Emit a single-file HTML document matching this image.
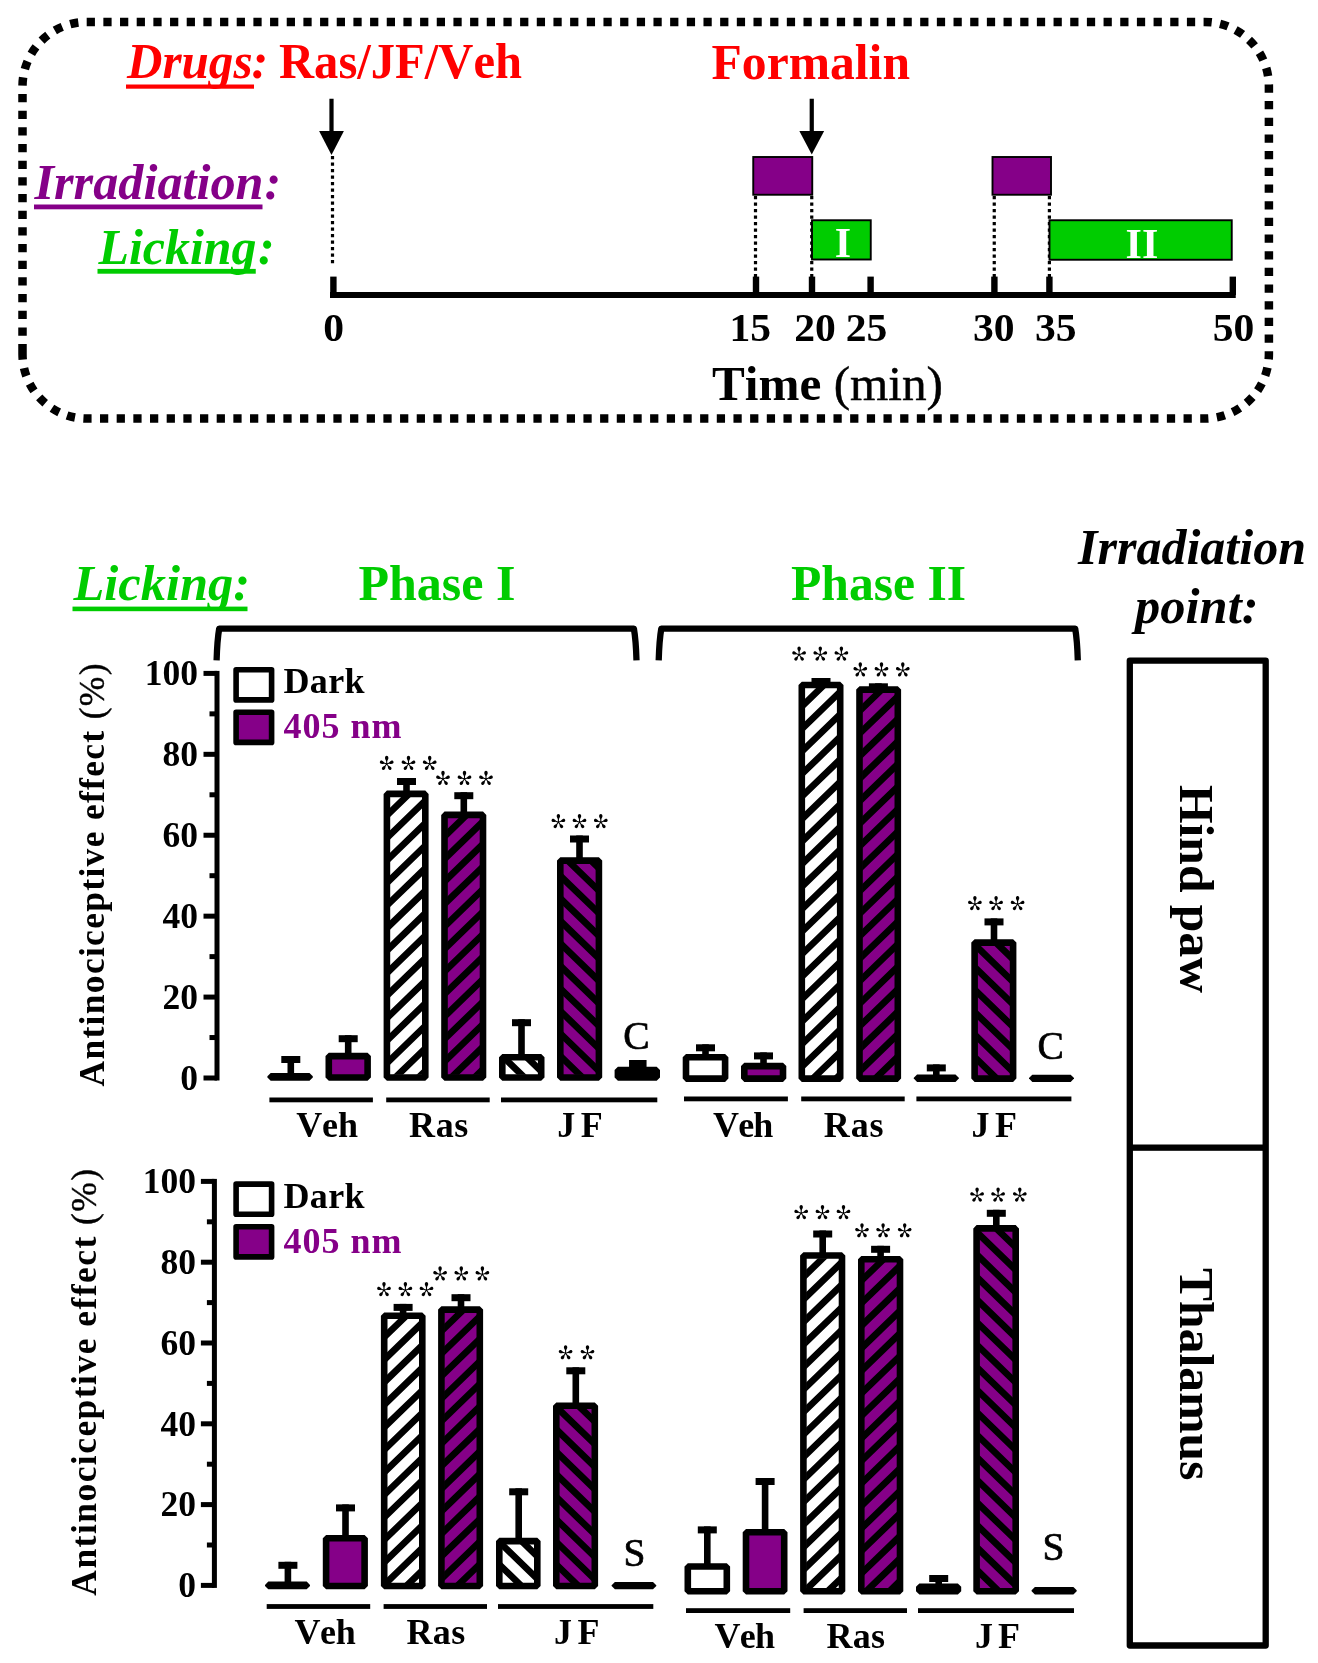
<!DOCTYPE html>
<html lang="en">
<head>
<meta charset="utf-8">
<title>Figure</title>
<style>
html,body{margin:0;padding:0;background:#fff;}
body{width:1318px;height:1663px;overflow:hidden;font-family:"Liberation Serif",serif;}
svg{display:block;font-family:"Liberation Serif",serif;will-change:transform;font-kerning:none;}
</style>
</head>
<body>
<svg width="1318" height="1663" viewBox="0 0 1318 1663">
<defs>
<path id="arm" d="M-0.5,0.3 L-0.55,-2.6 C-0.65,-3.7 -1.7,-4.6 -1.7,-6 C-1.7,-7.3 -0.9,-8.1 0,-8.1 C0.9,-8.1 1.7,-7.3 1.7,-6 C1.7,-4.6 0.65,-3.7 0.55,-2.6 L0.5,0.3 Z"/>
<g id="star"><use href="#arm"/><use href="#arm" transform="rotate(72) scale(0.95,0.88)"/><use href="#arm" transform="rotate(144) scale(0.95,0.88)"/><use href="#arm" transform="rotate(216) scale(0.95,0.88)"/><use href="#arm" transform="rotate(288) scale(0.95,0.88)"/></g>
<clipPath id="c1"><rect x="389.60" y="796.60" width="33.00" height="278.20"/></clipPath>
<clipPath id="c2"><rect x="447.20" y="817.60" width="33.10" height="257.20"/></clipPath>
<clipPath id="c3"><rect x="505.00" y="1060.00" width="33.50" height="14.80"/></clipPath>
<clipPath id="c4"><rect x="563.00" y="863.30" width="33.20" height="211.50"/></clipPath>
<clipPath id="c5"><rect x="804.50" y="687.70" width="33.00" height="388.20"/></clipPath>
<clipPath id="c6"><rect x="862.20" y="692.30" width="32.90" height="383.60"/></clipPath>
<clipPath id="c7"><rect x="977.30" y="945.30" width="33.10" height="130.60"/></clipPath>
<clipPath id="c8"><rect x="386.90" y="1318.40" width="32.70" height="264.90"/></clipPath>
<clipPath id="c9"><rect x="444.10" y="1312.30" width="33.00" height="271.00"/></clipPath>
<clipPath id="c10"><rect x="502.00" y="1543.80" width="32.60" height="39.50"/></clipPath>
<clipPath id="c11"><rect x="559.00" y="1408.50" width="33.10" height="174.80"/></clipPath>
<clipPath id="c12"><rect x="806.10" y="1258.20" width="33.20" height="330.30"/></clipPath>
<clipPath id="c13"><rect x="864.00" y="1262.00" width="33.30" height="326.50"/></clipPath>
<clipPath id="c14"><rect x="979.30" y="1231.10" width="33.70" height="357.40"/></clipPath>
</defs>
<rect x="0" y="0" width="1318" height="1663" fill="#fff"/>
<path d="M22.5,352.3 V86.4 A64.5,64.5 0 0 1 87,21.9 H1204.4 A64.5,64.5 0 0 1 1268.9,86.4 V354.1 A64.5,64.5 0 0 1 1204.4,418.6 H87 A64.5,64.5 0 0 1 22.5,354.1 Z" fill="none" stroke="#000" stroke-width="8.5" stroke-dasharray="8.25 8.42"/>
<text x="127.00" y="78.00" font-size="50" font-weight="bold" font-style="italic" fill="#ff0000" textLength="125.50" lengthAdjust="spacingAndGlyphs" >Drugs</text>
<rect x="126.00" y="84.50" width="128.00" height="4.20" fill="#ff0000" stroke="none" stroke-width="0" />
<text x="251.50" y="78.00" font-size="50" font-weight="bold" font-style="italic" fill="#ff0000" >:</text>
<text x="279.00" y="78.00" font-size="50" font-weight="bold" font-style="normal" fill="#ff0000" textLength="243.00" lengthAdjust="spacingAndGlyphs" >Ras/JF/Veh</text>
<text x="711.50" y="78.50" font-size="50" font-weight="bold" font-style="normal" fill="#ff0000" textLength="198.50" lengthAdjust="spacingAndGlyphs" >Formalin</text>
<text x="34.50" y="198.75" font-size="50" font-weight="bold" font-style="italic" fill="#850088" textLength="229.00" lengthAdjust="spacingAndGlyphs" >Irradiation</text>
<rect x="34.00" y="204.50" width="228.50" height="4.80" fill="#850088" stroke="none" stroke-width="0" />
<text x="264.50" y="198.75" font-size="50" font-weight="bold" font-style="italic" fill="#850088" >:</text>
<text x="98.50" y="263.75" font-size="50" font-weight="bold" font-style="italic" fill="#00cc00" textLength="158.00" lengthAdjust="spacingAndGlyphs" >Licking</text>
<rect x="97.50" y="268.90" width="158.25" height="4.80" fill="#00cc00" stroke="none" stroke-width="0" />
<text x="258.00" y="263.75" font-size="50" font-weight="bold" font-style="italic" fill="#00cc00" >:</text>
<rect x="329.40" y="98.75" width="4.20" height="35.25" fill="#000" stroke="none" stroke-width="0" />
<path d="M319.10,131 L343.90,131 L331.50,155.0 Z" fill="#000"/>
<rect x="809.65" y="98.75" width="4.20" height="35.25" fill="#000" stroke="none" stroke-width="0" />
<path d="M799.35,131 L824.15,131 L811.75,154.6 Z" fill="#000"/>
<line x1="332.50" y1="156.00" x2="332.50" y2="266.00" stroke="#000" stroke-width="3.2" stroke-dasharray="3.3 3.2"/>
<line x1="755.50" y1="196.00" x2="755.50" y2="278.00" stroke="#000" stroke-width="3.2" stroke-dasharray="3.3 3.2"/>
<line x1="811.75" y1="196.00" x2="811.75" y2="278.00" stroke="#000" stroke-width="3.2" stroke-dasharray="3.3 3.2"/>
<line x1="994.25" y1="196.00" x2="994.25" y2="278.00" stroke="#000" stroke-width="3.2" stroke-dasharray="3.3 3.2"/>
<line x1="1049.40" y1="196.00" x2="1049.40" y2="278.00" stroke="#000" stroke-width="3.2" stroke-dasharray="3.3 3.2"/>
<rect x="753.25" y="157.00" width="59.00" height="37.75" fill="#850088" stroke="#000" stroke-width="1.9" />
<rect x="992.50" y="157.00" width="58.50" height="37.75" fill="#850088" stroke="#000" stroke-width="1.9" />
<rect x="812.00" y="220.25" width="58.75" height="39.25" fill="#00cc00" stroke="#000" stroke-width="1.9" />
<rect x="1049.50" y="220.25" width="182.25" height="39.50" fill="#00cc00" stroke="#000" stroke-width="1.9" />
<text x="842.90" y="256.75" font-size="42" font-weight="bold" font-style="normal" fill="#fff" text-anchor="middle" >I</text>
<text x="1141.90" y="258.00" font-size="42" font-weight="bold" font-style="normal" fill="#fff" text-anchor="middle" >II</text>
<rect x="330.00" y="292.00" width="905.75" height="6.00" fill="#000" stroke="none" stroke-width="0" />
<rect x="330.20" y="276.60" width="6.40" height="18.40" fill="#000" stroke="none" stroke-width="0" />
<rect x="752.80" y="276.60" width="6.40" height="18.40" fill="#000" stroke="none" stroke-width="0" />
<rect x="808.80" y="276.60" width="6.40" height="18.40" fill="#000" stroke="none" stroke-width="0" />
<rect x="867.40" y="276.60" width="6.40" height="18.40" fill="#000" stroke="none" stroke-width="0" />
<rect x="991.20" y="276.60" width="6.40" height="18.40" fill="#000" stroke="none" stroke-width="0" />
<rect x="1046.20" y="276.60" width="6.40" height="18.40" fill="#000" stroke="none" stroke-width="0" />
<rect x="1229.60" y="276.60" width="6.40" height="18.40" fill="#000" stroke="none" stroke-width="0" />
<text x="333.70" y="340.75" font-size="41" font-weight="bold" font-style="normal" fill="#000" text-anchor="middle" textLength="20.80" lengthAdjust="spacingAndGlyphs" >0</text>
<text x="750.20" y="340.75" font-size="41" font-weight="bold" font-style="normal" fill="#000" text-anchor="middle" textLength="41.60" lengthAdjust="spacingAndGlyphs" >15</text>
<text x="815.08" y="340.75" font-size="41" font-weight="bold" font-style="normal" fill="#000" text-anchor="middle" textLength="41.60" lengthAdjust="spacingAndGlyphs" >20</text>
<text x="866.45" y="340.75" font-size="41" font-weight="bold" font-style="normal" fill="#000" text-anchor="middle" textLength="41.60" lengthAdjust="spacingAndGlyphs" >25</text>
<text x="993.83" y="340.75" font-size="41" font-weight="bold" font-style="normal" fill="#000" text-anchor="middle" textLength="41.60" lengthAdjust="spacingAndGlyphs" >30</text>
<text x="1055.70" y="340.75" font-size="41" font-weight="bold" font-style="normal" fill="#000" text-anchor="middle" textLength="41.60" lengthAdjust="spacingAndGlyphs" >35</text>
<text x="1233.45" y="340.75" font-size="41" font-weight="bold" font-style="normal" fill="#000" text-anchor="middle" textLength="41.60" lengthAdjust="spacingAndGlyphs" >50</text>
<text x="712.00" y="400.00" font-size="49" font-weight="bold" font-style="normal" fill="#000" textLength="231.00" lengthAdjust="spacingAndGlyphs" >Time <tspan font-weight="normal" stroke="#000" stroke-width="0.5">(min)</tspan></text>
<text x="73.50" y="600.00" font-size="50" font-weight="bold" font-style="italic" fill="#00cc00" textLength="176.50" lengthAdjust="spacingAndGlyphs" >Licking:</text>
<rect x="72.50" y="606.60" width="175.00" height="4.60" fill="#00cc00" stroke="none" stroke-width="0" />
<text x="358.50" y="600.00" font-size="50" font-weight="bold" font-style="normal" fill="#00cc00" textLength="157.00" lengthAdjust="spacingAndGlyphs" >Phase I</text>
<text x="791.00" y="600.00" font-size="50" font-weight="bold" font-style="normal" fill="#00cc00" textLength="175.00" lengthAdjust="spacingAndGlyphs" >Phase II</text>
<text x="1078.00" y="564.00" font-size="50" font-weight="bold" font-style="italic" fill="#000" textLength="228.00" lengthAdjust="spacingAndGlyphs" >Irradiation</text>
<text x="1135.00" y="623.00" font-size="50" font-weight="bold" font-style="italic" fill="#000" textLength="123.50" lengthAdjust="spacingAndGlyphs" >point:</text>
<path d="M216.6,660.3 Q217.2,640 219.2,628.6 L633.9,628.6 Q635.9,640 636.5,660.3" fill="none" stroke="#000" stroke-width="6.3" stroke-linejoin="round"/>
<path d="M658.7,660.3 Q659.3,640 661.3,628.6 L1075.2,628.6 Q1077.2,640 1077.8,660.3" fill="none" stroke="#000" stroke-width="6.3" stroke-linejoin="round"/>
<rect x="1129.80" y="660.60" width="135.90" height="984.90" fill="none" stroke="#000" stroke-width="6.3" stroke-linejoin="round"/>
<rect x="1129.80" y="1144.50" width="135.90" height="6.30" fill="#000" stroke="none" stroke-width="0" />
<g transform="translate(1179.75,785) rotate(90)">
<text x="0.00" y="0.00" font-size="48.5" font-weight="bold" font-style="normal" fill="#000" textLength="208.00" lengthAdjust="spacingAndGlyphs" >Hind paw</text>
</g>
<g transform="translate(1179.75,1268) rotate(90)">
<text x="0.00" y="0.00" font-size="48.5" font-weight="bold" font-style="normal" fill="#000" textLength="212.50" lengthAdjust="spacingAndGlyphs" >Thalamus</text>
</g>
<rect x="214.50" y="670.90" width="5.00" height="409.60" fill="#000" stroke="none" stroke-width="0" />
<rect x="203.50" y="670.90" width="13.50" height="5.00" fill="#000" stroke="none" stroke-width="0" />
<rect x="209.50" y="711.36" width="7.50" height="5.00" fill="#000" stroke="none" stroke-width="0" />
<rect x="203.50" y="751.82" width="13.50" height="5.00" fill="#000" stroke="none" stroke-width="0" />
<rect x="209.50" y="792.28" width="7.50" height="5.00" fill="#000" stroke="none" stroke-width="0" />
<rect x="203.50" y="832.74" width="13.50" height="5.00" fill="#000" stroke="none" stroke-width="0" />
<rect x="209.50" y="873.20" width="7.50" height="5.00" fill="#000" stroke="none" stroke-width="0" />
<rect x="203.50" y="913.66" width="13.50" height="5.00" fill="#000" stroke="none" stroke-width="0" />
<rect x="209.50" y="954.12" width="7.50" height="5.00" fill="#000" stroke="none" stroke-width="0" />
<rect x="203.50" y="994.58" width="13.50" height="5.00" fill="#000" stroke="none" stroke-width="0" />
<rect x="209.50" y="1035.04" width="7.50" height="5.00" fill="#000" stroke="none" stroke-width="0" />
<rect x="203.50" y="1075.50" width="13.50" height="5.00" fill="#000" stroke="none" stroke-width="0" />
<text x="198.00" y="685.20" font-size="35.5" font-weight="bold" font-style="normal" fill="#000" text-anchor="end" >100</text>
<text x="198.00" y="766.12" font-size="35.5" font-weight="bold" font-style="normal" fill="#000" text-anchor="end" >80</text>
<text x="198.00" y="847.04" font-size="35.5" font-weight="bold" font-style="normal" fill="#000" text-anchor="end" >60</text>
<text x="198.00" y="927.96" font-size="35.5" font-weight="bold" font-style="normal" fill="#000" text-anchor="end" >40</text>
<text x="198.00" y="1008.88" font-size="35.5" font-weight="bold" font-style="normal" fill="#000" text-anchor="end" >20</text>
<text x="198.00" y="1089.80" font-size="35.5" font-weight="bold" font-style="normal" fill="#000" text-anchor="end" >0</text>
<g transform="translate(104.20,1086.50) rotate(-90)">
<text x="0.00" y="0.00" font-size="35.5" font-weight="bold" font-style="normal" fill="#000" textLength="423.00" lengthAdjust="spacing" >Antinociceptive effect <tspan font-weight="normal" stroke="#000" stroke-width="0.4">(%)</tspan></text>
</g>
<rect x="236.10" y="669.70" width="35.50" height="30.20" fill="#fff" stroke="#000" stroke-width="5.6" stroke-linejoin="round"/>
<rect x="236.10" y="712.20" width="35.50" height="30.20" fill="#850088" stroke="#000" stroke-width="5.6" stroke-linejoin="round"/>
<text x="283.50" y="692.60" font-size="36" font-weight="bold" font-style="normal" fill="#000" textLength="81.00" lengthAdjust="spacing" >Dark</text>
<text x="283.50" y="737.70" font-size="36" font-weight="bold" font-style="normal" fill="#850088" textLength="118.00" lengthAdjust="spacing" >405 nm</text>
<rect x="270.70" y="1076.20" width="38.80" height="1.30" fill="#fff" stroke="#000" stroke-width="6.6" stroke-linejoin="bevel"/>
<rect x="281.30" y="1056.00" width="19.00" height="7.00" fill="#000" stroke="none" stroke-width="0" />
<rect x="287.50" y="1056.00" width="6.60" height="19.00" fill="#000" stroke="none" stroke-width="0" />
<rect x="328.80" y="1056.10" width="38.80" height="21.40" fill="#850088" stroke="#000" stroke-width="6.6" stroke-linejoin="bevel"/>
<rect x="338.70" y="1035.20" width="19.00" height="7.00" fill="#000" stroke="none" stroke-width="0" />
<rect x="344.90" y="1035.20" width="6.60" height="19.80" fill="#000" stroke="none" stroke-width="0" />
<rect x="386.90" y="793.90" width="38.40" height="283.60" fill="#fff" stroke="#000" stroke-width="6.6" stroke-linejoin="bevel"/>
<path d="M382.20,752.40L430.00,706.03M382.20,774.92L430.00,728.55M382.20,797.44L430.00,751.07M382.20,819.96L430.00,773.59M382.20,842.48L430.00,796.11M382.20,865.00L430.00,818.63M382.20,887.52L430.00,841.15M382.20,910.04L430.00,863.67M382.20,932.56L430.00,886.19M382.20,955.08L430.00,908.71M382.20,977.60L430.00,931.23M382.20,1000.12L430.00,953.75M382.20,1022.64L430.00,976.27M382.20,1045.16L430.00,998.79M382.20,1067.68L430.00,1021.31M382.20,1090.20L430.00,1043.83M382.20,1112.72L430.00,1066.35M382.20,1135.24L430.00,1088.87" stroke="#000" stroke-width="6.7" fill="none" clip-path="url(#c1)"/>
<rect x="397.00" y="778.00" width="19.00" height="7.00" fill="#000" stroke="none" stroke-width="0" />
<rect x="403.20" y="778.00" width="6.60" height="15.00" fill="#000" stroke="none" stroke-width="0" />
<rect x="444.50" y="814.90" width="38.50" height="262.60" fill="#850088" stroke="#000" stroke-width="6.6" stroke-linejoin="bevel"/>
<path d="M439.80,773.40L487.70,726.94M439.80,795.92L487.70,749.46M439.80,818.44L487.70,771.98M439.80,840.96L487.70,794.50M439.80,863.48L487.70,817.02M439.80,886.00L487.70,839.54M439.80,908.52L487.70,862.06M439.80,931.04L487.70,884.58M439.80,953.56L487.70,907.10M439.80,976.08L487.70,929.62M439.80,998.60L487.70,952.14M439.80,1021.12L487.70,974.66M439.80,1043.64L487.70,997.18M439.80,1066.16L487.70,1019.70M439.80,1088.68L487.70,1042.22M439.80,1111.20L487.70,1064.74M439.80,1133.72L487.70,1087.26" stroke="#000" stroke-width="6.7" fill="none" clip-path="url(#c2)"/>
<rect x="454.30" y="792.20" width="19.00" height="7.00" fill="#000" stroke="none" stroke-width="0" />
<rect x="460.50" y="792.20" width="6.60" height="21.80" fill="#000" stroke="none" stroke-width="0" />
<rect x="502.30" y="1057.30" width="38.90" height="20.20" fill="#fff" stroke="#000" stroke-width="6.6" stroke-linejoin="bevel"/>
<path d="M497.60,1119.00L545.90,1165.85M497.60,1096.48L545.90,1143.33M497.60,1073.96L545.90,1120.81M497.60,1051.44L545.90,1098.29M497.60,1028.92L545.90,1075.77M497.60,1006.40L545.90,1053.25" stroke="#000" stroke-width="6.7" fill="none" clip-path="url(#c3)"/>
<rect x="512.00" y="1019.20" width="19.00" height="7.00" fill="#000" stroke="none" stroke-width="0" />
<rect x="518.20" y="1019.20" width="6.60" height="36.80" fill="#000" stroke="none" stroke-width="0" />
<rect x="560.30" y="860.60" width="38.60" height="216.90" fill="#850088" stroke="#000" stroke-width="6.6" stroke-linejoin="bevel"/>
<path d="M555.60,1119.00L603.60,1165.56M555.60,1096.48L603.60,1143.04M555.60,1073.96L603.60,1120.52M555.60,1051.44L603.60,1098.00M555.60,1028.92L603.60,1075.48M555.60,1006.40L603.60,1052.96M555.60,983.88L603.60,1030.44M555.60,961.36L603.60,1007.92M555.60,938.84L603.60,985.40M555.60,916.32L603.60,962.88M555.60,893.80L603.60,940.36M555.60,871.28L603.60,917.84M555.60,848.76L603.60,895.32M555.60,826.24L603.60,872.80M555.60,803.72L603.60,850.28" stroke="#000" stroke-width="6.7" fill="none" clip-path="url(#c4)"/>
<rect x="570.00" y="835.50" width="19.00" height="7.00" fill="#000" stroke="none" stroke-width="0" />
<rect x="576.20" y="835.50" width="6.60" height="24.50" fill="#000" stroke="none" stroke-width="0" />
<rect x="617.90" y="1070.10" width="38.80" height="7.40" fill="#000" stroke="#000" stroke-width="6.6" stroke-linejoin="bevel"/>
<rect x="629.05" y="1060.00" width="17.50" height="7.00" fill="#000" stroke="none" stroke-width="0" />
<rect x="634.50" y="1060.00" width="6.60" height="9.00" fill="#000" stroke="none" stroke-width="0" />
<use href="#star" x="386.70" y="763.90"/>
<use href="#star" x="408.50" y="763.90"/>
<use href="#star" x="429.70" y="763.90"/>
<use href="#star" x="443.00" y="778.90"/>
<use href="#star" x="464.50" y="778.90"/>
<use href="#star" x="486.00" y="778.90"/>
<use href="#star" x="558.40" y="822.10"/>
<use href="#star" x="579.50" y="822.10"/>
<use href="#star" x="600.80" y="822.10"/>
<text x="636.50" y="1049.00" font-size="39.5" font-weight="normal" font-style="normal" fill="#000" text-anchor="middle" stroke="#000" stroke-width="0.7">C</text>
<rect x="269.40" y="1097.50" width="103.50" height="4.80" fill="#000" stroke="none" stroke-width="0" />
<rect x="386.20" y="1097.50" width="103.50" height="4.80" fill="#000" stroke="none" stroke-width="0" />
<rect x="501.00" y="1097.50" width="156.30" height="4.80" fill="#000" stroke="none" stroke-width="0" />
<text x="296.20" y="1137.40" font-size="36" font-weight="bold" font-style="normal" fill="#000" textLength="61.80" lengthAdjust="spacing" >Veh</text>
<text x="409.10" y="1137.40" font-size="36" font-weight="bold" font-style="normal" fill="#000" textLength="59.10" lengthAdjust="spacing" >Ras</text>
<text x="557.30" y="1137.40" font-size="36" font-weight="bold" font-style="normal" fill="#000" textLength="45.50" lengthAdjust="spacing" >JF</text>
<rect x="686.00" y="1057.30" width="39.10" height="21.30" fill="#fff" stroke="#000" stroke-width="6.6" stroke-linejoin="bevel"/>
<rect x="696.00" y="1044.30" width="19.00" height="7.00" fill="#000" stroke="none" stroke-width="0" />
<rect x="702.20" y="1044.30" width="6.60" height="11.70" fill="#000" stroke="none" stroke-width="0" />
<rect x="744.30" y="1066.10" width="38.70" height="12.50" fill="#850088" stroke="#000" stroke-width="6.6" stroke-linejoin="bevel"/>
<rect x="754.00" y="1052.40" width="19.00" height="7.00" fill="#000" stroke="none" stroke-width="0" />
<rect x="760.20" y="1052.40" width="6.60" height="12.60" fill="#000" stroke="none" stroke-width="0" />
<rect x="801.80" y="685.00" width="38.40" height="393.60" fill="#fff" stroke="#000" stroke-width="6.6" stroke-linejoin="bevel"/>
<path d="M797.10,643.50L844.90,597.13M797.10,666.02L844.90,619.65M797.10,688.54L844.90,642.17M797.10,711.06L844.90,664.69M797.10,733.58L844.90,687.21M797.10,756.10L844.90,709.73M797.10,778.62L844.90,732.25M797.10,801.14L844.90,754.77M797.10,823.66L844.90,777.29M797.10,846.18L844.90,799.81M797.10,868.70L844.90,822.33M797.10,891.22L844.90,844.85M797.10,913.74L844.90,867.37M797.10,936.26L844.90,889.89M797.10,958.78L844.90,912.41M797.10,981.30L844.90,934.93M797.10,1003.82L844.90,957.45M797.10,1026.34L844.90,979.97M797.10,1048.86L844.90,1002.49M797.10,1071.38L844.90,1025.01M797.10,1093.90L844.90,1047.53M797.10,1116.42L844.90,1070.05" stroke="#000" stroke-width="6.7" fill="none" clip-path="url(#c5)"/>
<rect x="811.50" y="678.00" width="19.00" height="7.00" fill="#000" stroke="none" stroke-width="0" />
<rect x="817.70" y="678.00" width="6.60" height="6.00" fill="#000" stroke="none" stroke-width="0" />
<rect x="859.50" y="689.60" width="38.30" height="389.00" fill="#850088" stroke="#000" stroke-width="6.6" stroke-linejoin="bevel"/>
<path d="M854.80,648.10L902.50,601.83M854.80,670.62L902.50,624.35M854.80,693.14L902.50,646.87M854.80,715.66L902.50,669.39M854.80,738.18L902.50,691.91M854.80,760.70L902.50,714.43M854.80,783.22L902.50,736.95M854.80,805.74L902.50,759.47M854.80,828.26L902.50,781.99M854.80,850.78L902.50,804.51M854.80,873.30L902.50,827.03M854.80,895.82L902.50,849.55M854.80,918.34L902.50,872.07M854.80,940.86L902.50,894.59M854.80,963.38L902.50,917.11M854.80,985.90L902.50,939.63M854.80,1008.42L902.50,962.15M854.80,1030.94L902.50,984.67M854.80,1053.46L902.50,1007.19M854.80,1075.98L902.50,1029.71M854.80,1098.50L902.50,1052.23M854.80,1121.02L902.50,1074.75" stroke="#000" stroke-width="6.7" fill="none" clip-path="url(#c6)"/>
<rect x="868.90" y="683.30" width="19.00" height="7.00" fill="#000" stroke="none" stroke-width="0" />
<rect x="875.10" y="683.30" width="6.60" height="5.70" fill="#000" stroke="none" stroke-width="0" />
<rect x="917.10" y="1077.70" width="38.40" height="0.90" fill="#fff" stroke="#000" stroke-width="6.6" stroke-linejoin="bevel"/>
<rect x="926.80" y="1064.40" width="19.00" height="7.00" fill="#000" stroke="none" stroke-width="0" />
<rect x="933.00" y="1064.40" width="6.60" height="12.60" fill="#000" stroke="none" stroke-width="0" />
<rect x="974.60" y="942.60" width="38.50" height="136.00" fill="#850088" stroke="#000" stroke-width="6.6" stroke-linejoin="bevel"/>
<path d="M969.90,1120.10L1017.80,1166.56M969.90,1097.58L1017.80,1144.04M969.90,1075.06L1017.80,1121.52M969.90,1052.54L1017.80,1099.00M969.90,1030.02L1017.80,1076.48M969.90,1007.50L1017.80,1053.96M969.90,984.98L1017.80,1031.44M969.90,962.46L1017.80,1008.92M969.90,939.94L1017.80,986.40M969.90,917.42L1017.80,963.88M969.90,894.90L1017.80,941.36" stroke="#000" stroke-width="6.7" fill="none" clip-path="url(#c7)"/>
<rect x="984.50" y="918.40" width="19.00" height="7.00" fill="#000" stroke="none" stroke-width="0" />
<rect x="990.70" y="918.40" width="6.60" height="23.60" fill="#000" stroke="none" stroke-width="0" />
<rect x="1032.30" y="1078.00" width="38.40" height="0.60" fill="#000" stroke="#000" stroke-width="6.6" stroke-linejoin="bevel"/>
<use href="#star" x="799.10" y="654.60"/>
<use href="#star" x="820.30" y="654.60"/>
<use href="#star" x="841.40" y="654.60"/>
<use href="#star" x="860.30" y="670.40"/>
<use href="#star" x="881.50" y="670.40"/>
<use href="#star" x="902.80" y="670.40"/>
<use href="#star" x="974.90" y="904.10"/>
<use href="#star" x="996.10" y="904.10"/>
<use href="#star" x="1017.60" y="904.10"/>
<text x="1050.60" y="1059.00" font-size="39.5" font-weight="normal" font-style="normal" fill="#000" text-anchor="middle" stroke="#000" stroke-width="0.7">C</text>
<rect x="684.00" y="1096.50" width="103.90" height="4.80" fill="#000" stroke="none" stroke-width="0" />
<rect x="801.20" y="1096.50" width="103.50" height="4.80" fill="#000" stroke="none" stroke-width="0" />
<rect x="916.40" y="1096.50" width="155.00" height="4.80" fill="#000" stroke="none" stroke-width="0" />
<text x="712.90" y="1137.00" font-size="36" font-weight="bold" font-style="normal" fill="#000" textLength="60.50" lengthAdjust="spacing" >Veh</text>
<text x="823.80" y="1137.00" font-size="36" font-weight="bold" font-style="normal" fill="#000" textLength="59.70" lengthAdjust="spacing" >Ras</text>
<text x="971.50" y="1137.00" font-size="36" font-weight="bold" font-style="normal" fill="#000" textLength="45.60" lengthAdjust="spacing" >JF</text>
<rect x="211.90" y="1178.90" width="5.00" height="409.00" fill="#000" stroke="none" stroke-width="0" />
<rect x="200.90" y="1178.90" width="13.50" height="5.00" fill="#000" stroke="none" stroke-width="0" />
<rect x="206.90" y="1219.30" width="7.50" height="5.00" fill="#000" stroke="none" stroke-width="0" />
<rect x="200.90" y="1259.70" width="13.50" height="5.00" fill="#000" stroke="none" stroke-width="0" />
<rect x="206.90" y="1300.10" width="7.50" height="5.00" fill="#000" stroke="none" stroke-width="0" />
<rect x="200.90" y="1340.50" width="13.50" height="5.00" fill="#000" stroke="none" stroke-width="0" />
<rect x="206.90" y="1380.90" width="7.50" height="5.00" fill="#000" stroke="none" stroke-width="0" />
<rect x="200.90" y="1421.30" width="13.50" height="5.00" fill="#000" stroke="none" stroke-width="0" />
<rect x="206.90" y="1461.70" width="7.50" height="5.00" fill="#000" stroke="none" stroke-width="0" />
<rect x="200.90" y="1502.10" width="13.50" height="5.00" fill="#000" stroke="none" stroke-width="0" />
<rect x="206.90" y="1542.50" width="7.50" height="5.00" fill="#000" stroke="none" stroke-width="0" />
<rect x="200.90" y="1582.90" width="13.50" height="5.00" fill="#000" stroke="none" stroke-width="0" />
<text x="196.00" y="1193.20" font-size="35.5" font-weight="bold" font-style="normal" fill="#000" text-anchor="end" >100</text>
<text x="196.00" y="1274.00" font-size="35.5" font-weight="bold" font-style="normal" fill="#000" text-anchor="end" >80</text>
<text x="196.00" y="1354.80" font-size="35.5" font-weight="bold" font-style="normal" fill="#000" text-anchor="end" >60</text>
<text x="196.00" y="1435.60" font-size="35.5" font-weight="bold" font-style="normal" fill="#000" text-anchor="end" >40</text>
<text x="196.00" y="1516.40" font-size="35.5" font-weight="bold" font-style="normal" fill="#000" text-anchor="end" >20</text>
<text x="196.00" y="1597.20" font-size="35.5" font-weight="bold" font-style="normal" fill="#000" text-anchor="end" >0</text>
<g transform="translate(96.00,1595.70) rotate(-90)">
<text x="0.00" y="0.00" font-size="35.5" font-weight="bold" font-style="normal" fill="#000" textLength="426.90" lengthAdjust="spacing" >Antinociceptive effect <tspan font-weight="normal" stroke="#000" stroke-width="0.4">(%)</tspan></text>
</g>
<rect x="236.10" y="1184.10" width="35.50" height="30.20" fill="#fff" stroke="#000" stroke-width="5.6" stroke-linejoin="round"/>
<rect x="236.10" y="1226.70" width="35.50" height="30.20" fill="#850088" stroke="#000" stroke-width="5.6" stroke-linejoin="round"/>
<text x="283.50" y="1207.60" font-size="36" font-weight="bold" font-style="normal" fill="#000" textLength="81.00" lengthAdjust="spacing" >Dark</text>
<text x="283.50" y="1252.70" font-size="36" font-weight="bold" font-style="normal" fill="#850088" textLength="118.00" lengthAdjust="spacing" >405 nm</text>
<rect x="268.30" y="1584.90" width="38.40" height="1.10" fill="#fff" stroke="#000" stroke-width="6.6" stroke-linejoin="bevel"/>
<rect x="278.40" y="1561.80" width="19.00" height="7.00" fill="#000" stroke="none" stroke-width="0" />
<rect x="284.60" y="1561.80" width="6.60" height="22.20" fill="#000" stroke="none" stroke-width="0" />
<rect x="326.10" y="1538.30" width="38.50" height="47.70" fill="#850088" stroke="#000" stroke-width="6.6" stroke-linejoin="bevel"/>
<rect x="336.00" y="1504.40" width="19.00" height="7.00" fill="#000" stroke="none" stroke-width="0" />
<rect x="342.20" y="1504.40" width="6.60" height="33.60" fill="#000" stroke="none" stroke-width="0" />
<rect x="384.20" y="1315.70" width="38.10" height="270.30" fill="#fff" stroke="#000" stroke-width="6.6" stroke-linejoin="bevel"/>
<path d="M379.50,1274.20L427.00,1228.12M379.50,1296.72L427.00,1250.64M379.50,1319.24L427.00,1273.16M379.50,1341.76L427.00,1295.68M379.50,1364.28L427.00,1318.20M379.50,1386.80L427.00,1340.72M379.50,1409.32L427.00,1363.24M379.50,1431.84L427.00,1385.76M379.50,1454.36L427.00,1408.28M379.50,1476.88L427.00,1430.80M379.50,1499.40L427.00,1453.32M379.50,1521.92L427.00,1475.84M379.50,1544.44L427.00,1498.36M379.50,1566.96L427.00,1520.88M379.50,1589.48L427.00,1543.40M379.50,1612.00L427.00,1565.92M379.50,1634.52L427.00,1588.44" stroke="#000" stroke-width="6.7" fill="none" clip-path="url(#c8)"/>
<rect x="393.60" y="1303.90" width="19.00" height="7.00" fill="#000" stroke="none" stroke-width="0" />
<rect x="399.80" y="1303.90" width="6.60" height="11.10" fill="#000" stroke="none" stroke-width="0" />
<rect x="441.40" y="1309.60" width="38.40" height="276.40" fill="#850088" stroke="#000" stroke-width="6.6" stroke-linejoin="bevel"/>
<path d="M436.70,1268.10L484.50,1221.73M436.70,1290.62L484.50,1244.25M436.70,1313.14L484.50,1266.77M436.70,1335.66L484.50,1289.29M436.70,1358.18L484.50,1311.81M436.70,1380.70L484.50,1334.33M436.70,1403.22L484.50,1356.85M436.70,1425.74L484.50,1379.37M436.70,1448.26L484.50,1401.89M436.70,1470.78L484.50,1424.41M436.70,1493.30L484.50,1446.93M436.70,1515.82L484.50,1469.45M436.70,1538.34L484.50,1491.97M436.70,1560.86L484.50,1514.49M436.70,1583.38L484.50,1537.01M436.70,1605.90L484.50,1559.53M436.70,1628.42L484.50,1582.05" stroke="#000" stroke-width="6.7" fill="none" clip-path="url(#c9)"/>
<rect x="451.50" y="1294.20" width="19.00" height="7.00" fill="#000" stroke="none" stroke-width="0" />
<rect x="457.70" y="1294.20" width="6.60" height="14.80" fill="#000" stroke="none" stroke-width="0" />
<rect x="499.30" y="1541.10" width="38.00" height="44.90" fill="#fff" stroke="#000" stroke-width="6.6" stroke-linejoin="bevel"/>
<path d="M494.60,1627.50L542.00,1673.48M494.60,1604.98L542.00,1650.96M494.60,1582.46L542.00,1628.44M494.60,1559.94L542.00,1605.92M494.60,1537.42L542.00,1583.40M494.60,1514.90L542.00,1560.88M494.60,1492.38L542.00,1538.36" stroke="#000" stroke-width="6.7" fill="none" clip-path="url(#c10)"/>
<rect x="509.20" y="1488.30" width="19.00" height="7.00" fill="#000" stroke="none" stroke-width="0" />
<rect x="515.40" y="1488.30" width="6.60" height="51.70" fill="#000" stroke="none" stroke-width="0" />
<rect x="556.30" y="1405.80" width="38.50" height="180.20" fill="#850088" stroke="#000" stroke-width="6.6" stroke-linejoin="bevel"/>
<path d="M551.60,1627.50L599.50,1673.96M551.60,1604.98L599.50,1651.44M551.60,1582.46L599.50,1628.92M551.60,1559.94L599.50,1606.40M551.60,1537.42L599.50,1583.88M551.60,1514.90L599.50,1561.36M551.60,1492.38L599.50,1538.84M551.60,1469.86L599.50,1516.32M551.60,1447.34L599.50,1493.80M551.60,1424.82L599.50,1471.28M551.60,1402.30L599.50,1448.76M551.60,1379.78L599.50,1426.24M551.60,1357.26L599.50,1403.72" stroke="#000" stroke-width="6.7" fill="none" clip-path="url(#c11)"/>
<rect x="566.30" y="1367.30" width="19.00" height="7.00" fill="#000" stroke="none" stroke-width="0" />
<rect x="572.50" y="1367.30" width="6.60" height="37.70" fill="#000" stroke="none" stroke-width="0" />
<rect x="614.90" y="1585.30" width="38.10" height="0.70" fill="#000" stroke="#000" stroke-width="6.6" stroke-linejoin="bevel"/>
<use href="#star" x="384.00" y="1290.10"/>
<use href="#star" x="405.40" y="1290.10"/>
<use href="#star" x="426.50" y="1290.10"/>
<use href="#star" x="440.10" y="1274.40"/>
<use href="#star" x="461.30" y="1274.40"/>
<use href="#star" x="482.40" y="1274.40"/>
<use href="#star" x="565.60" y="1353.30"/>
<use href="#star" x="587.50" y="1353.30"/>
<text x="634.40" y="1566.00" font-size="39.5" font-weight="normal" font-style="normal" fill="#000" text-anchor="middle" stroke="#000" stroke-width="0.7">S</text>
<rect x="266.70" y="1604.10" width="103.50" height="4.80" fill="#000" stroke="none" stroke-width="0" />
<rect x="383.60" y="1604.10" width="103.40" height="4.80" fill="#000" stroke="none" stroke-width="0" />
<rect x="498.00" y="1604.10" width="155.30" height="4.80" fill="#000" stroke="none" stroke-width="0" />
<text x="294.50" y="1643.60" font-size="36" font-weight="bold" font-style="normal" fill="#000" textLength="61.20" lengthAdjust="spacing" >Veh</text>
<text x="406.50" y="1643.60" font-size="36" font-weight="bold" font-style="normal" fill="#000" textLength="58.70" lengthAdjust="spacing" >Ras</text>
<text x="554.00" y="1643.60" font-size="36" font-weight="bold" font-style="normal" fill="#000" textLength="45.50" lengthAdjust="spacing" >JF</text>
<rect x="687.80" y="1566.50" width="39.00" height="24.70" fill="#fff" stroke="#000" stroke-width="6.6" stroke-linejoin="bevel"/>
<rect x="697.80" y="1526.40" width="19.00" height="7.00" fill="#000" stroke="none" stroke-width="0" />
<rect x="704.00" y="1526.40" width="6.60" height="39.60" fill="#000" stroke="none" stroke-width="0" />
<rect x="746.00" y="1532.30" width="38.20" height="58.90" fill="#850088" stroke="#000" stroke-width="6.6" stroke-linejoin="bevel"/>
<rect x="755.60" y="1478.00" width="19.00" height="7.00" fill="#000" stroke="none" stroke-width="0" />
<rect x="761.80" y="1478.00" width="6.60" height="54.00" fill="#000" stroke="none" stroke-width="0" />
<rect x="803.40" y="1255.50" width="38.60" height="335.70" fill="#fff" stroke="#000" stroke-width="6.6" stroke-linejoin="bevel"/>
<path d="M798.70,1214.00L846.70,1167.44M798.70,1236.52L846.70,1189.96M798.70,1259.04L846.70,1212.48M798.70,1281.56L846.70,1235.00M798.70,1304.08L846.70,1257.52M798.70,1326.60L846.70,1280.04M798.70,1349.12L846.70,1302.56M798.70,1371.64L846.70,1325.08M798.70,1394.16L846.70,1347.60M798.70,1416.68L846.70,1370.12M798.70,1439.20L846.70,1392.64M798.70,1461.72L846.70,1415.16M798.70,1484.24L846.70,1437.68M798.70,1506.76L846.70,1460.20M798.70,1529.28L846.70,1482.72M798.70,1551.80L846.70,1505.24M798.70,1574.32L846.70,1527.76M798.70,1596.84L846.70,1550.28M798.70,1619.36L846.70,1572.80M798.70,1641.88L846.70,1595.32" stroke="#000" stroke-width="6.7" fill="none" clip-path="url(#c12)"/>
<rect x="813.20" y="1230.50" width="19.00" height="7.00" fill="#000" stroke="none" stroke-width="0" />
<rect x="819.40" y="1230.50" width="6.60" height="24.50" fill="#000" stroke="none" stroke-width="0" />
<rect x="861.30" y="1259.30" width="38.70" height="331.90" fill="#850088" stroke="#000" stroke-width="6.6" stroke-linejoin="bevel"/>
<path d="M856.60,1217.80L904.70,1171.14M856.60,1240.32L904.70,1193.66M856.60,1262.84L904.70,1216.18M856.60,1285.36L904.70,1238.70M856.60,1307.88L904.70,1261.22M856.60,1330.40L904.70,1283.74M856.60,1352.92L904.70,1306.26M856.60,1375.44L904.70,1328.78M856.60,1397.96L904.70,1351.30M856.60,1420.48L904.70,1373.82M856.60,1443.00L904.70,1396.34M856.60,1465.52L904.70,1418.86M856.60,1488.04L904.70,1441.38M856.60,1510.56L904.70,1463.90M856.60,1533.08L904.70,1486.42M856.60,1555.60L904.70,1508.94M856.60,1578.12L904.70,1531.46M856.60,1600.64L904.70,1553.98M856.60,1623.16L904.70,1576.50M856.60,1645.68L904.70,1599.02" stroke="#000" stroke-width="6.7" fill="none" clip-path="url(#c13)"/>
<rect x="871.10" y="1245.80" width="19.00" height="7.00" fill="#000" stroke="none" stroke-width="0" />
<rect x="877.30" y="1245.80" width="6.60" height="13.20" fill="#000" stroke="none" stroke-width="0" />
<rect x="919.30" y="1586.80" width="38.60" height="4.40" fill="#000" stroke="#000" stroke-width="6.6" stroke-linejoin="bevel"/>
<rect x="929.20" y="1575.00" width="19.00" height="7.00" fill="#000" stroke="none" stroke-width="0" />
<rect x="935.40" y="1575.00" width="6.60" height="11.00" fill="#000" stroke="none" stroke-width="0" />
<rect x="976.60" y="1228.40" width="39.10" height="362.80" fill="#850088" stroke="#000" stroke-width="6.6" stroke-linejoin="bevel"/>
<path d="M971.90,1632.70L1020.40,1679.75M971.90,1610.18L1020.40,1657.23M971.90,1587.66L1020.40,1634.71M971.90,1565.14L1020.40,1612.19M971.90,1542.62L1020.40,1589.67M971.90,1520.10L1020.40,1567.15M971.90,1497.58L1020.40,1544.63M971.90,1475.06L1020.40,1522.11M971.90,1452.54L1020.40,1499.59M971.90,1430.02L1020.40,1477.07M971.90,1407.50L1020.40,1454.55M971.90,1384.98L1020.40,1432.03M971.90,1362.46L1020.40,1409.51M971.90,1339.94L1020.40,1386.99M971.90,1317.42L1020.40,1364.47M971.90,1294.90L1020.40,1341.95M971.90,1272.38L1020.40,1319.43M971.90,1249.86L1020.40,1296.91M971.90,1227.34L1020.40,1274.39M971.90,1204.82L1020.40,1251.87M971.90,1182.30L1020.40,1229.35" stroke="#000" stroke-width="6.7" fill="none" clip-path="url(#c14)"/>
<rect x="986.80" y="1209.80" width="19.00" height="7.00" fill="#000" stroke="none" stroke-width="0" />
<rect x="993.00" y="1209.80" width="6.60" height="18.20" fill="#000" stroke="none" stroke-width="0" />
<rect x="1034.90" y="1590.30" width="38.50" height="0.90" fill="#000" stroke="#000" stroke-width="6.6" stroke-linejoin="bevel"/>
<use href="#star" x="801.20" y="1213.10"/>
<use href="#star" x="822.50" y="1213.10"/>
<use href="#star" x="843.50" y="1213.10"/>
<use href="#star" x="862.00" y="1231.30"/>
<use href="#star" x="883.10" y="1231.30"/>
<use href="#star" x="904.70" y="1231.30"/>
<use href="#star" x="977.10" y="1195.60"/>
<use href="#star" x="998.10" y="1195.60"/>
<use href="#star" x="1019.80" y="1195.60"/>
<text x="1053.40" y="1560.00" font-size="39.5" font-weight="normal" font-style="normal" fill="#000" text-anchor="middle" stroke="#000" stroke-width="0.7">S</text>
<rect x="686.00" y="1608.20" width="104.20" height="4.80" fill="#000" stroke="none" stroke-width="0" />
<rect x="803.60" y="1608.20" width="103.40" height="4.80" fill="#000" stroke="none" stroke-width="0" />
<rect x="918.00" y="1608.20" width="156.00" height="4.80" fill="#000" stroke="none" stroke-width="0" />
<text x="714.50" y="1648.00" font-size="36" font-weight="bold" font-style="normal" fill="#000" textLength="60.50" lengthAdjust="spacing" >Veh</text>
<text x="826.50" y="1648.00" font-size="36" font-weight="bold" font-style="normal" fill="#000" textLength="58.40" lengthAdjust="spacing" >Ras</text>
<text x="975.00" y="1648.00" font-size="36" font-weight="bold" font-style="normal" fill="#000" textLength="45.10" lengthAdjust="spacing" >JF</text>
</svg>
</body>
</html>
